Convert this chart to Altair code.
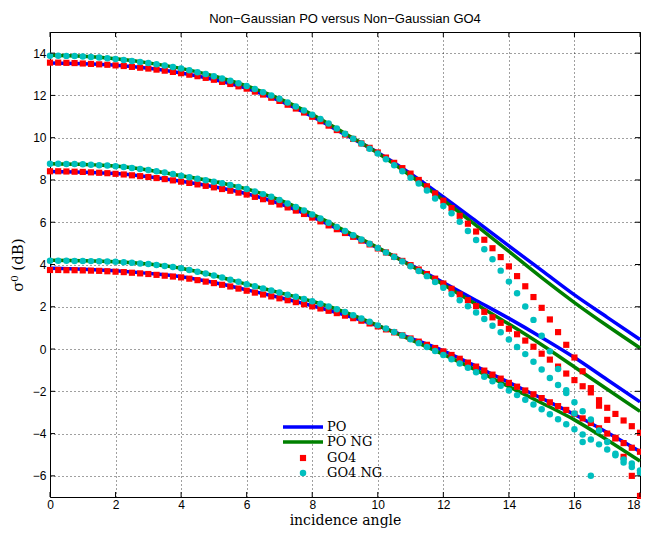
import altair as alt
import pandas as pd

# ---------------- data ----------------
x_line = list(range(0, 19))                  # line samples, every degree
x_pts = [i * 0.25 for i in range(73)]        # marker samples, every 0.25 degree
x_ticks = [0, 2, 4, 6, 8, 10, 12, 14, 16, 18]
y_ticks = [-6, -4, -2, 0, 2, 4, 6, 8, 10, 12, 14]

# PO (blue lines)
po_top = [13.53, 13.50, 13.43, 13.28, 13.06, 12.75, 12.33, 11.75, 11.00, 10.15,
          9.30, 8.30, 7.20, 6.05, 4.88, 3.72, 2.56, 1.50, 0.45]
po_mid = [8.40, 8.37, 8.30, 8.15, 7.94, 7.68, 7.35, 6.88, 6.25, 5.52,
          4.78, 3.98, 3.15, 2.30, 1.45, 0.55, -0.40, -1.45, -2.50]
po_bot = [3.82, 3.78, 3.70, 3.58, 3.42, 3.15, 2.80, 2.44, 2.05, 1.61,
          1.10, 0.52, -0.08, -0.82, -1.58, -2.33, -3.10, -3.95, -4.85]

# PO NG (green lines)
pong_top = [13.90, 13.85, 13.73, 13.54, 13.28, 12.92, 12.45, 11.85, 11.10, 10.20,
            9.27, 8.20, 7.05, 5.85, 4.62, 3.38, 2.20, 1.10, 0.05]
pong_mid = [8.77, 8.74, 8.66, 8.47, 8.20, 7.93, 7.58, 7.06, 6.38, 5.60,
            4.80, 3.95, 3.05, 2.12, 1.18, 0.20, -0.85, -1.90, -2.95]
pong_bot = [4.20, 4.18, 4.13, 4.02, 3.82, 3.48, 3.07, 2.67, 2.26, 1.75,
            1.12, 0.45, -0.25, -1.00, -1.78, -2.55, -3.35, -4.30, -5.30]

# GO4 (red squares)
go4_top = [13.55, 13.55, 13.54, 13.53, 13.51, 13.49, 13.47, 13.45, 13.42, 13.39, 13.35, 13.31,
           13.27, 13.22, 13.17, 13.11, 13.05, 12.98, 12.91, 12.83, 12.74, 12.64, 12.54, 12.43,
           12.32, 12.18, 12.04, 11.89, 11.74, 11.56, 11.38, 11.19, 10.99, 10.78, 10.57, 10.36,
           10.15, 9.94, 9.73, 9.52, 9.30, 9.06, 8.81, 8.56, 8.30, 8.00, 7.70, 7.36,
           7.02, 6.67, 6.30, 5.93, 5.56, 5.17, 4.77, 4.35, 3.91, 3.45, 2.97, 2.46,
           1.95, 1.40, 0.80, 0.20, -0.40, -1.05, -1.85, -2.68, -3.35, -4.20, -5.10, -6.00,
           -6.95]
go4_mid = [8.41, 8.41, 8.40, 8.39, 8.38, 8.36, 8.34, 8.32, 8.29, 8.26, 8.22, 8.18,
           8.14, 8.09, 8.04, 7.98, 7.92, 7.86, 7.79, 7.72, 7.65, 7.57, 7.49, 7.40,
           7.31, 7.20, 7.09, 6.97, 6.84, 6.70, 6.55, 6.39, 6.22, 6.04, 5.85, 5.67,
           5.49, 5.31, 5.13, 4.95, 4.76, 4.57, 4.37, 4.17, 3.97, 3.76, 3.55, 3.33,
           3.10, 2.85, 2.58, 2.31, 2.03, 1.76, 1.50, 1.24, 0.96, 0.70, 0.40, 0.11,
           -0.22, -0.50, -0.83, -1.16, -1.47, -1.76, -2.05, -2.42, -2.78, -3.07, -3.38, -3.65,
           -3.96]
go4_bot = [3.74, 3.74, 3.73, 3.73, 3.72, 3.71, 3.70, 3.68, 3.66, 3.64, 3.61, 3.58,
           3.55, 3.51, 3.47, 3.43, 3.39, 3.33, 3.26, 3.19, 3.12, 3.04, 2.96, 2.86,
           2.76, 2.67, 2.58, 2.49, 2.40, 2.31, 2.22, 2.12, 2.02, 1.92, 1.81, 1.70,
           1.58, 1.46, 1.34, 1.21, 1.07, 0.93, 0.79, 0.65, 0.50, 0.35, 0.20, 0.05,
           -0.11, -0.28, -0.46, -0.64, -0.83, -1.02, -1.21, -1.40, -1.60, -1.78, -1.96, -2.14,
           -2.32, -2.52, -2.70, -2.88, -3.07, -3.28, -3.50, -3.75, -4.00, -4.23, -4.45, -4.67,
           -4.86]

# GO4 NG (cyan circles)
go4ng_top = [13.88, 13.88, 13.87, 13.86, 13.84, 13.82, 13.79, 13.76, 13.72, 13.68, 13.63, 13.58,
             13.53, 13.47, 13.41, 13.34, 13.27, 13.19, 13.10, 13.01, 12.91, 12.80, 12.69, 12.57,
             12.44, 12.30, 12.15, 12.00, 11.84, 11.66, 11.48, 11.29, 11.09, 10.88, 10.67, 10.43,
             10.19, 9.95, 9.72, 9.48, 9.25, 8.98, 8.70, 8.41, 8.11, 7.83, 7.50, 7.12,
             6.77, 6.42, 6.02, 5.58, 5.16, 4.72, 4.25, 3.71, 3.19, 2.64, 2.01, 1.38,
             0.63, -0.11, -0.94, -1.95, -3.05, -4.40, -6.00, None, None, None, None, None,
             None]
go4ng_mid = [8.77, 8.77, 8.76, 8.75, 8.74, 8.72, 8.70, 8.68, 8.65, 8.61, 8.57, 8.52,
             8.47, 8.41, 8.35, 8.28, 8.20, 8.13, 8.06, 7.99, 7.92, 7.84, 7.76, 7.67,
             7.57, 7.45, 7.33, 7.20, 7.05, 6.89, 6.72, 6.55, 6.37, 6.18, 5.98, 5.78,
             5.58, 5.38, 5.18, 4.98, 4.78, 4.57, 4.36, 4.14, 3.92, 3.69, 3.45, 3.17,
             2.90, 2.60, 2.31, 2.02, 1.73, 1.42, 1.10, 0.79, 0.45, 0.10, -0.24, -0.60,
             -0.97, -1.37, -1.70, -2.08, -2.52, -2.94, -3.33, -3.85, -4.40, -4.95, -5.37, -5.58,
             -5.85]
go4ng_bot = [4.18, 4.18, 4.18, 4.17, 4.17, 4.16, 4.15, 4.14, 4.13, 4.11, 4.08, 4.05,
             4.02, 3.98, 3.93, 3.88, 3.82, 3.74, 3.66, 3.57, 3.48, 3.38, 3.28, 3.18,
             3.07, 2.97, 2.87, 2.77, 2.67, 2.57, 2.47, 2.37, 2.26, 2.14, 2.01, 1.88,
             1.75, 1.60, 1.45, 1.29, 1.12, 0.97, 0.81, 0.64, 0.46, 0.28, 0.10, -0.09,
             -0.28, -0.48, -0.68, -0.89, -1.10, -1.31, -1.52, -1.74, -1.96, -2.18, -2.40, -2.62,
             -2.85, -3.08, -3.32, -3.56, -3.80, -4.04, -4.28, -4.51, -4.75, -5.02, -5.22, -5.42,
             -5.74]

legend_labels = ["PO", "PO NG", "GO4", "GO4 NG"]
title_text = "Non\u2212Gaussian PO versus Non\u2212Gaussian GO4"

BLUE, GREEN, RED, CYAN = "#0000ff", "#008000", "#ff0000", "#00bfbf"
SERIF = "DejaVu Serif"


def long_df(xs, series):
    rows = []
    for g, vals in series:
        for x, y in zip(xs, vals):
            rows.append({"x": x, "y": y, "grp": g})
    return pd.DataFrame(rows)


po_df = long_df(x_line, [("top", po_top), ("mid", po_mid), ("bot", po_bot)])
pong_df = long_df(x_line, [("top", pong_top), ("mid", pong_mid), ("bot", pong_bot)])
go4_df = long_df(x_pts, [("top", go4_top), ("mid", go4_mid), ("bot", go4_bot)])
go4ng_df = long_df(x_pts, [("top", go4ng_top), ("mid", go4ng_mid), ("bot", go4ng_bot)])
xt_df = pd.DataFrame({"x": x_ticks})
yt_df = pd.DataFrame({"y": y_ticks})

# whole canvas must fit in 633 x 520 (page 649 x 536 minus 8px margins)
W, H = 590, 465
PAD = {"left": 42, "top": 24, "right": 1, "bottom": 31}

xscale = alt.Scale(domain=[0, 18], nice=False, zero=False)
yscale = alt.Scale(domain=[-7, 15], nice=False, zero=False)
grid_kw = dict(grid=True, gridColor="#000000", gridDash=[1, 3], gridOpacity=0.75, gridWidth=1,
               ticks=False, tickSize=0, domain=False, labelFlush=False, labelOverlap=False,
               labelFont="Liberation Sans", labelFontSize=12, labelColor="black",
               titleFont=SERIF, titleFontWeight="normal",
               titleColor="black", format="d")
xaxis = alt.Axis(values=x_ticks, title="incidence angle", labelPadding=2,
                 labelAlign=alt.expr("datum.value >= 18 ? 'right' : 'center'"),
                 titleFontSize=14, titleY=27, titleBaseline="alphabetic", **grid_kw)
yaxis = alt.Axis(values=y_ticks, title="\u03c3\u2070 (dB)", labelPadding=4, titlePadding=7,
                 titleFontSize=15, **grid_kw)


def X(f="x"):
    return alt.X(f"{f}:Q", scale=xscale, axis=xaxis)


def Y(f="y"):
    return alt.Y(f"{f}:Q", scale=yscale, axis=yaxis)


line_po = alt.Chart(po_df).mark_line(color=BLUE, strokeWidth=3.5, interpolate="monotone").encode(
    x=X(), y=Y(), detail="grp:N")
line_pong = alt.Chart(pong_df).mark_line(color=GREEN, strokeWidth=3.5, interpolate="monotone").encode(
    x=X(), y=Y(), detail="grp:N")
pts_go4 = alt.Chart(go4_df).mark_square(color=RED, size=38, opacity=1).encode(x=X(), y=Y())
pts_go4ng = alt.Chart(go4ng_df).mark_circle(color=CYAN, size=42, opacity=1).encode(x=X(), y=Y())

# inward tick marks (MATLAB style box)
tick_b = alt.Chart(xt_df).mark_rule(color="black", strokeWidth=1).encode(
    x=X(), y=alt.value(H), y2=alt.value(H - 5))
tick_t = alt.Chart(xt_df).mark_rule(color="black", strokeWidth=1).encode(
    x=X(), y=alt.value(0), y2=alt.value(5))
tick_l = alt.Chart(yt_df).mark_rule(color="black", strokeWidth=1).encode(
    y=Y(), x=alt.value(0), x2=alt.value(5))
tick_r = alt.Chart(yt_df).mark_rule(color="black", strokeWidth=1).encode(
    y=Y(), x=alt.value(W), x2=alt.value(W - 5))

# legend (no box)
leg_x0, leg_x1, leg_mark_x, leg_text_x = 233, 273, 253, 277
leg_rows = [395, 410, 426, 441]
leg_layers = []
leg_layers.append(alt.Chart(alt.Data(values=[{"t": legend_labels[0]}])).mark_rule(
    color=BLUE, strokeWidth=3.5).encode(x=alt.value(leg_x0), x2=alt.value(leg_x1), y=alt.value(leg_rows[0])))
leg_layers.append(alt.Chart(alt.Data(values=[{"t": legend_labels[1]}])).mark_rule(
    color=GREEN, strokeWidth=3.5).encode(x=alt.value(leg_x0), x2=alt.value(leg_x1), y=alt.value(leg_rows[1])))
leg_layers.append(alt.Chart(alt.Data(values=[{"t": legend_labels[2]}])).mark_square(
    color=RED, size=38, opacity=1).encode(x=alt.value(leg_mark_x), y=alt.value(leg_rows[2])))
leg_layers.append(alt.Chart(alt.Data(values=[{"t": legend_labels[3]}])).mark_circle(
    color=CYAN, size=42, opacity=1).encode(x=alt.value(leg_mark_x), y=alt.value(leg_rows[3])))
for lab, ry in zip(legend_labels, leg_rows):
    leg_layers.append(alt.Chart(alt.Data(values=[{"t": lab}])).mark_text(
        align="left", baseline="middle", font=SERIF, fontSize=13, color="black").encode(
        x=alt.value(leg_text_x), y=alt.value(ry), text="t:N"))

chart = alt.layer(
    line_po, line_pong, pts_go4, pts_go4ng, tick_b, tick_t, tick_l, tick_r, *leg_layers
).properties(
    width=W, height=H,
    title=alt.TitleParams(title_text, font="Liberation Sans", fontSize=13, fontWeight="normal",
                          color="black", offset=6, anchor="middle"),
    autosize=alt.AutoSizeParams(type="none"),
    padding=PAD,
    background="white",
).configure_view(stroke="black", strokeWidth=1)

chart.save("out.html", embed_options={"renderer": "svg", "actions": False})
